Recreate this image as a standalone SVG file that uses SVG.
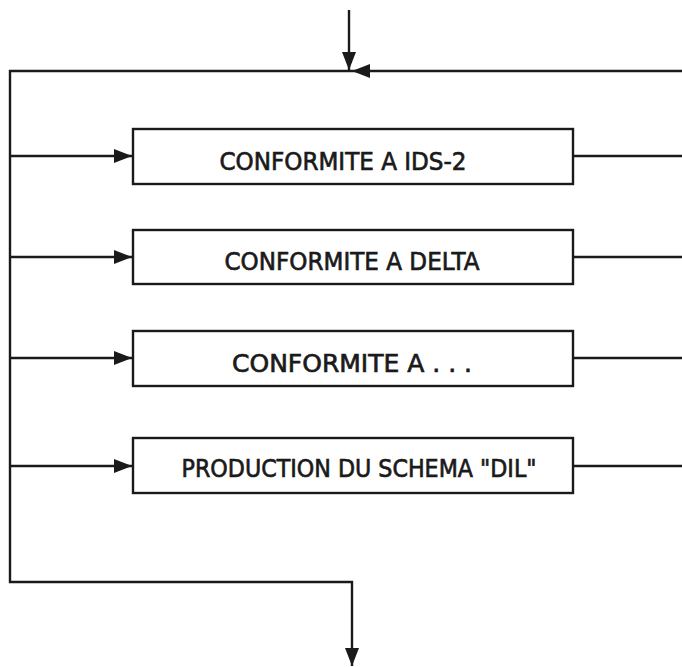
<svg xmlns="http://www.w3.org/2000/svg" width="682" height="667" viewBox="0 0 682 667">
<style>
.ln{fill:none;stroke:#1a1a1a;stroke-width:2.4}
.bx{fill:#fff;stroke:#1a1a1a;stroke-width:2.4}
.tx{font-family:"DejaVu Sans","Liberation Sans",Arial,sans-serif;font-size:25px;fill:#1a1a1a;stroke:#1a1a1a;stroke-width:0.7;text-anchor:middle}
</style>
<defs>
<marker id="ah" viewBox="0 0 18 14" refX="18" refY="7" markerWidth="18" markerHeight="14" markerUnits="userSpaceOnUse" orient="auto">
<path d="M0,0 L18,7 L0,14 Z" fill="#1a1a1a"/>
</marker>
</defs>
<rect width="682" height="667" fill="#fff"/>
<g id="connectors">
<path class="ln" d="M349,10 V70" marker-end="url(#ah)"/>
<path class="ln" d="M682,71 H352" marker-end="url(#ah)"/>
<path class="ln" d="M352,71 H10 V582 H352 V666" marker-end="url(#ah)"/>
<path class="ln" d="M10,156 H132" marker-end="url(#ah)"/>
<path class="ln" d="M10,257 H132" marker-end="url(#ah)"/>
<path class="ln" d="M10,358 H132" marker-end="url(#ah)"/>
<path class="ln" d="M10,466 H132" marker-end="url(#ah)"/>
<path class="ln" d="M573,156 H682"/>
<path class="ln" d="M573,257 H682"/>
<path class="ln" d="M573,358 H682"/>
<path class="ln" d="M573,466 H682"/>
</g>
<g id="n1"><rect class="bx" x="133" y="129" width="440" height="55"/><text class="tx" x="343" y="170" textLength="247" lengthAdjust="spacingAndGlyphs">CONFORMITE A IDS-2</text></g>
<g id="n2"><rect class="bx" x="133" y="230" width="440" height="54"/><text class="tx" x="352" y="270" textLength="255" lengthAdjust="spacingAndGlyphs">CONFORMITE A DELTA</text></g>
<g id="n3"><rect class="bx" x="133" y="331" width="440" height="55"/><text class="tx" x="352" y="372" textLength="240" lengthAdjust="spacingAndGlyphs">CONFORMITE A . . .</text></g>
<g id="n4"><rect class="bx" x="133" y="438" width="440" height="55"/><text class="tx" x="359" y="477" textLength="355" lengthAdjust="spacingAndGlyphs">PRODUCTION DU SCHEMA "DIL"</text></g>
</svg>
